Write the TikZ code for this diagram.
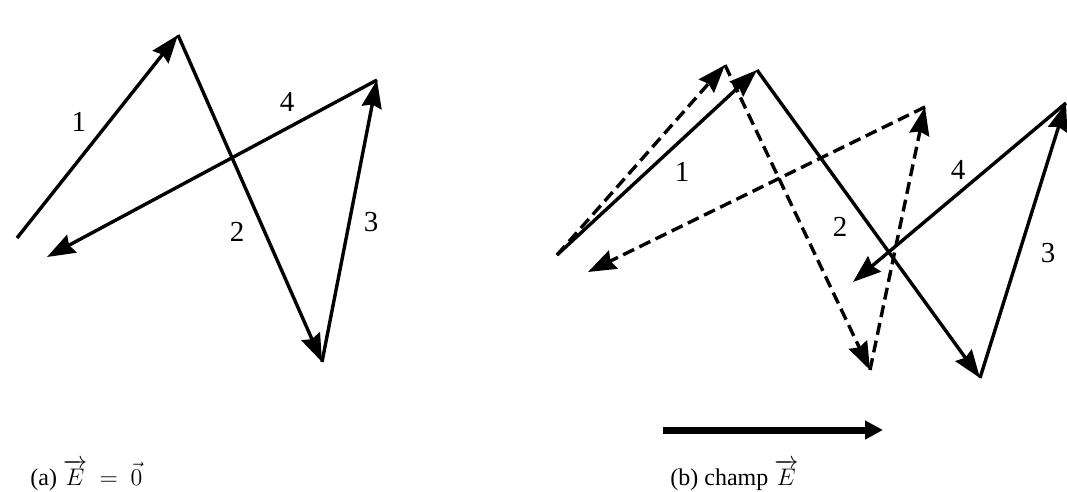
\documentclass[tikz,border=0pt]{standalone}
\usepackage{fontspec}
\setmainfont{Liberation Serif}
\usepackage{amsmath}
\usetikzlibrary{arrows.meta}
\tikzset{
  vec/.style={line width=1.7pt, line join=round, -{Stealth[length=14pt,width=10pt,inset=1.5pt]}},
  vecdash/.style={vec, dash pattern=on 6pt off 3pt},
  num/.style={font=\fontsize{14.5}{17}\selectfont, inner sep=0pt},
  caption/.style={font=\fontsize{12}{14}\selectfont, anchor=base west, inner sep=0pt}
}
\begin{document}
\begin{tikzpicture}[x=0.5pt, y=-0.5pt]
    \useasboundingbox (0,0) rectangle (1067,492);

    % (a) the four vectors, sum zero
    \coordinate (aS) at (17,238);
    \coordinate (aA) at (178,35);
    \coordinate (aB) at (322,362);
    \coordinate (aC) at (377,80);
    \coordinate (aE) at (47,257);
    \draw[vec] (aS) -- (aA);
    \draw[vec] (aA) -- (aB);
    \draw[vec] (aB) -- (aC);
    \draw[vec] (aC) -- (aE);

    \node[num] (a1) at (79,122) {1};
    \node[num] (a2) at (237,232) {2};
    \node[num] (a3) at (371,222) {3};
    \node[num] (a4) at (287,102) {4};

    % (b) dashed: without field
    \coordinate (bS) at (557,255);
    \coordinate (dA) at (725,65);
    \coordinate (dB) at (870,370);
    \coordinate (dC) at (925,107);
    \coordinate (dE) at (588,272);
    \draw[vecdash] (bS) -- (dA);
    \draw[vecdash] (dA) -- (dB);
    \draw[vecdash] (dB) -- (dC);
    \draw[vecdash] (dC) -- (dE);

    % (b) solid: with field
    \coordinate (sA) at (757,70);
    \coordinate (sB) at (980,378);
    \coordinate (sC) at (1066,103);
    \coordinate (sE) at (853,282);
    \draw[vec] (bS) -- (sA);
    \draw[vec] (sA) -- (sB);
    \draw[vec] (sB) -- (sC);
    \draw[vec] (sC) -- (sE);

    \node[num] (b1) at (682,172) {1};
    \node[num] (b2) at (840,227) {2};
    \node[num] (b3) at (1048,253) {3};
    \node[num] (b4) at (958,170) {4};

    % field direction
    \coordinate (fS) at (663,430);
    \coordinate (fE) at (883,430);
    \draw[line width=3.5pt, -{Triangle[length=9pt,width=9pt]}] (fS) -- (fE);

    % captions
    \node[caption] (capa) at (30,485) {(a) $\overrightarrow{E}\ =\ \vec{0}$};
    \node[caption] (capb) at (670,485) {(b) champ $\overrightarrow{E}$};
\end{tikzpicture}
\end{document}
